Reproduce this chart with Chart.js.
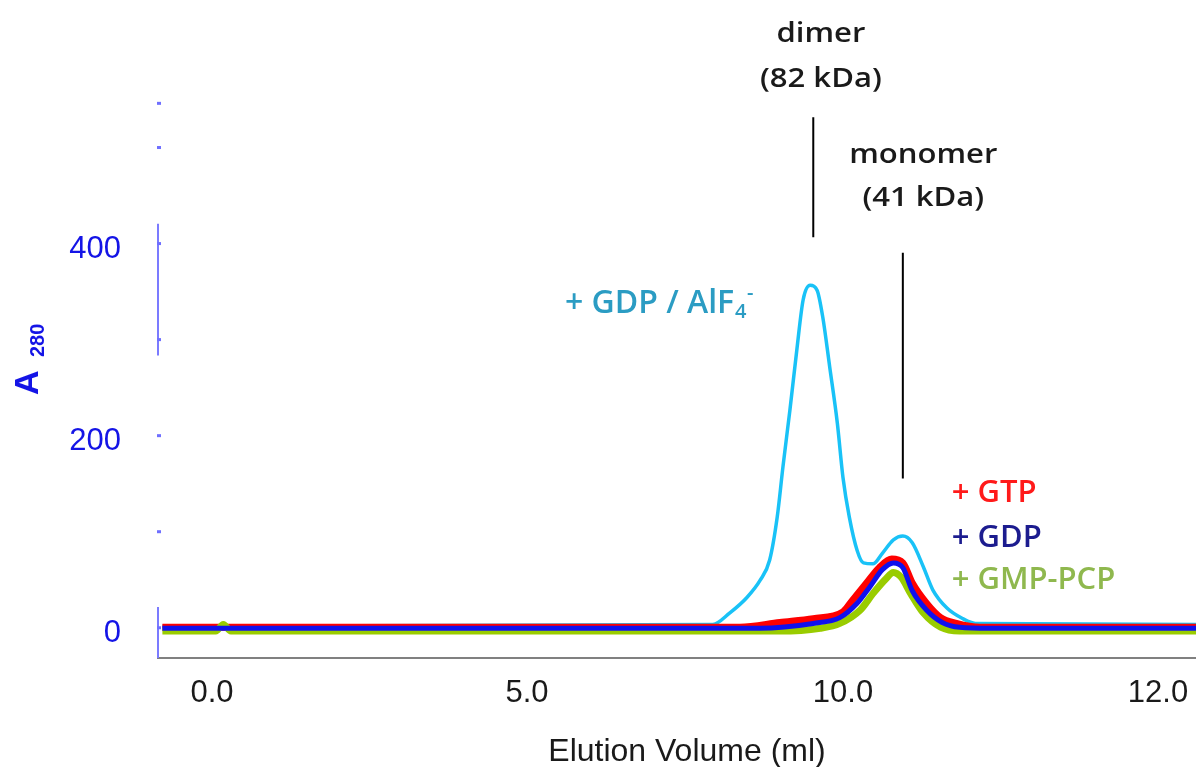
<!DOCTYPE html>
<html>
<head>
<meta charset="utf-8">
<script src="https://cdn.jsdelivr.net/npm/chart.js@4.4.0/dist/chart.umd.min.js"></script>
<style>
  html, body { margin: 0; padding: 0; background: #fff; }
  #wrap { width: 1196px; height: 767px; }
</style>
</head>
<body>
<div id="wrap"><canvas id="chart"></canvas></div>
<script>
// elution volume (ml) / A280
var alfVol  = [-0.79, 7.94, 8.21, 8.48, 8.69, 8.84, 8.96, 9.05, 9.16, 9.27, 9.37, 9.48, 9.59, 9.68, 9.79, 9.91, 10.00, 10.04, 10.09, 10.13, 10.19, 10.25, 10.32, 10.38, 10.44, 10.51, 10.57, 10.66, 10.76, 10.84, 12.24];
var alfA280 = [1, 3, 15, 31, 49, 70, 115, 167, 226, 289, 341, 356, 351, 323, 271, 213, 156, 115, 80, 67, 66, 77, 91, 95, 88, 63, 39, 20, 9, 4, 3];

var gtpVol  = [-0.79, 8.37, 9.00, 9.53, 10.00, 10.06, 10.15, 10.23, 10.31, 10.38, 10.44, 10.53, 10.62, 10.72, 10.87, 12.24];
var gtpA280 = [0, 0, 5, 9, 16, 28, 46, 62, 71, 67, 46, 25, 10, 4, 0, 0];

var gdpVol  = [-0.79, 8.69, 9.53, 9.95, 10.09, 10.17, 10.25, 10.32, 10.38, 10.44, 10.53, 10.63, 10.74, 10.93, 12.24];
var gdpA280 = [-1, -1, 4, 10, 25, 42, 60, 67, 62, 38, 18, 5, 0, -1, -1];

var gmpVol  = [-0.79, 0.06, 0.18, 0.30, 9.00, 9.64, 9.95, 10.11, 10.19, 10.27, 10.32, 10.37, 10.43, 10.51, 10.62, 10.74, 12.24];
var gmpA280 = [-4, -4, 3, -4, -4, -1, 4, 18, 35, 50, 57, 52, 35, 15, 0, -4, -4];

var xTicks = [0, 5, 10, 12];
var yTicks = [0, 200, 400];
var yMinor = [0, 100, 200, 300, 400, 500, 546];

// the printed volume axis is not evenly spaced: piecewise linear between labelled volumes
var xBreaks = [-0.86, 0, 5, 10, 12, 12.24];
var xFracs  = [0, 0.0520, 0.3555, 0.6599, 0.9634, 1];

function seg(arr, v) {
  var i = 0;
  while (i < arr.length - 2 && v > arr[i + 1]) i++;
  return i;
}
function volToFrac(v) {
  var i = seg(xBreaks, v);
  return xFracs[i] + (v - xBreaks[i]) / (xBreaks[i + 1] - xBreaks[i]) * (xFracs[i + 1] - xFracs[i]);
}
function fracToVol(f) {
  var i = seg(xFracs, f);
  return xBreaks[i] + (f - xFracs[i]) / (xFracs[i + 1] - xFracs[i]) * (xBreaks[i + 1] - xBreaks[i]);
}

class PiecewiseScale extends Chart.LinearScale {
  getPixelForValue(value) { return this.getPixelForDecimal(volToFrac(value)); }
  getValueForPixel(pixel) { return fracToVol(this.getDecimalForPixel(pixel)); }
}
PiecewiseScale.id = 'piecewise';
PiecewiseScale.defaults = Chart.LinearScale.defaults;
Chart.register(PiecewiseScale);

function pts(xs, ys) {
  return xs.map(function (x, i) { return { x: x, y: ys[i] }; });
}

function text(ctx, str, x, y, font, color, sx, align) {
  ctx.save();
  ctx.translate(x, y);
  ctx.scale(sx, 1);
  ctx.font = font;
  ctx.fillStyle = color;
  ctx.textAlign = align;
  ctx.textBaseline = 'alphabetic';
  ctx.fillText(str, 0, 0);
  ctx.restore();
}

var decor = {
  id: 'decor',
  beforeDatasetsDraw: function (chart) {
    var ctx = chart.ctx, xs = chart.scales.x, ys = chart.scales.y;
    var ax = xs.left;
    ctx.save();
    ctx.strokeStyle = '#7b7bff';
    ctx.lineWidth = 2;
    ctx.beginPath();
    ctx.moveTo(ax, ys.getPixelForValue(420));
    ctx.lineTo(ax, ys.getPixelForValue(283));
    ctx.moveTo(ax, ys.getPixelForValue(21));
    ctx.lineTo(ax, ys.bottom);
    ctx.stroke();
    ctx.fillStyle = '#6f6fff';
    yMinor.forEach(function (v) {
      ctx.fillRect(ax - 1, ys.getPixelForValue(v) - 1, 4, 3);
    });
    ctx.restore();
  },
  afterDatasetsDraw: function (chart) {
    var ctx = chart.ctx, xs = chart.scales.x, ys = chart.scales.y;
    var X = function (v) { return xs.getPixelForValue(v); };
    var Y = function (v) { return ys.getPixelForValue(v); };
    var ann = '600 27px "Open Sans"';
    var lab = '600 31px "Open Sans"';

    // peak markers
    ctx.save();
    ctx.strokeStyle = '#000';
    ctx.lineWidth = 2;
    ctx.beginPath();
    ctx.moveTo(X(9.53), Y(531)); ctx.lineTo(X(9.53), Y(406));
    ctx.moveTo(X(10.38), Y(390)); ctx.lineTo(X(10.38), Y(155));
    ctx.stroke();
    ctx.restore();

    text(ctx, 'dimer', X(9.65), Y(609), ann, '#1a1a1a', 1.15, 'center');
    text(ctx, '(82 kDa)', X(9.65), Y(562), ann, '#1a1a1a', 1.15, 'center');
    text(ctx, 'monomer', X(10.51), Y(483), ann, '#1a1a1a', 1.15, 'center');
    text(ctx, '(41 kDa)', X(10.51), Y(439), ann, '#1a1a1a', 1.15, 'center');

    // trace labels
    var lab2 = '600 32px "Open Sans"';
    var ax0 = X(5.60), ay0 = Y(327);
    ctx.save();
    ctx.font = lab2;
    var w = ctx.measureText('+ GDP / AlF').width;
    ctx.restore();
    text(ctx, '+ GDP / AlF', ax0, ay0, lab2, '#2b9cc3', 1, 'left');
    text(ctx, '4', ax0 + w + 1, ay0 + 5, '600 20px "Open Sans"', '#2b9cc3', 1, 'left');
    text(ctx, '-', ax0 + w + 13, ay0 - 14, '600 20px "Open Sans"', '#2b9cc3', 1, 'left');

    text(ctx, '+ GTP', X(10.69), Y(130), lab, '#ff1a1a', 1, 'left');
    text(ctx, '+ GDP', X(10.69), Y(84), lab, '#1c1c8f', 1, 'left');
    text(ctx, '+ GMP-PCP', X(10.69), Y(40), lab, '#8fb84e', 1, 'left');

    // axis titles
    ctx.save();
    ctx.translate(38, 395);
    ctx.rotate(-Math.PI / 2);
    ctx.fillStyle = '#1414e6';
    ctx.font = 'bold 34px "Liberation Sans"';
    ctx.fillText('A', 0, 0);
    ctx.font = 'bold 20px "Liberation Sans"';
    ctx.fillText('280', 38, 6);
    ctx.restore();

    text(ctx, 'Elution Volume (ml)', 687, 761, '32px "Liberation Sans"', '#1a1a1a', 1, 'center');
  }
};

var ctx = document.getElementById('chart').getContext('2d');
var chart = new Chart(ctx, {
  type: 'line',
  data: {
    datasets: [
      { label: '+ GDP', data: pts(gdpVol, gdpA280), borderColor: '#1010ee', borderWidth: 5 },
      { label: '+ GMP-PCP', data: pts(gmpVol, gmpA280), borderColor: '#99cc00', borderWidth: 7 },
      { label: '+ GTP', data: pts(gtpVol, gtpA280), borderColor: '#ff0000', borderWidth: 7 },
      { label: '+ GDP / AlF4-', data: pts(alfVol, alfA280), borderColor: '#19c2f7', borderWidth: 3.5 }
    ]
  },
  options: {
    responsive: true,
    maintainAspectRatio: false,
    animation: false,
    layout: { padding: { top: 99, right: 0, bottom: 0, left: 0 } },
    elements: {
      point: { radius: 0 },
      line: { cubicInterpolationMode: 'monotone', fill: false }
    },
    plugins: {
      legend: { display: false },
      tooltip: { enabled: false }
    },
    scales: {
      x: {
        type: 'piecewise',
        min: -0.86,
        max: 12.24,
        afterBuildTicks: function (s) { s.ticks = xTicks.map(function (v) { return { value: v }; }); },
        afterFit: function (s) { s.height = 109; s.paddingLeft = 0; s.paddingRight = 0; },
        grid: { display: false },
        border: { display: true, color: '#808080', width: 2 },
        ticks: {
          autoSkip: false,
          maxRotation: 0,
          padding: 9,
          color: '#1a1a1a',
          font: { family: 'Liberation Sans', size: 31 },
          callback: function (v) { return Number(v).toFixed(1); }
        }
      },
      y: {
        min: -32,
        max: 550,
        afterBuildTicks: function (s) { s.ticks = yTicks.map(function (v) { return { value: v }; }); },
        afterFit: function (s) { s.width = 158; s.paddingTop = 0; s.paddingBottom = 0; },
        grid: { display: false },
        border: { display: false },
        ticks: {
          padding: 29,
          labelOffset: 6,
          color: '#1414e6',
          font: { family: 'Liberation Sans', size: 31 }
        }
      }
    }
  },
  plugins: [decor]
});
</script>
</body>
</html>
